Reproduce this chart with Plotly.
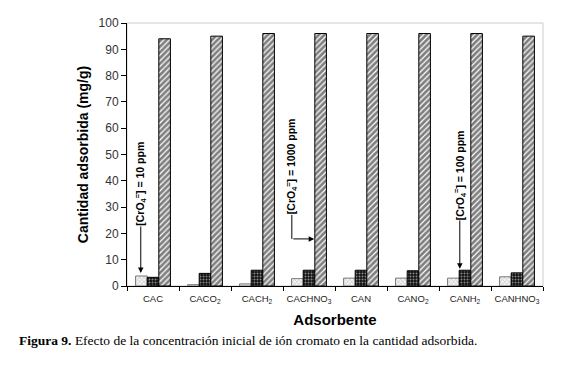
import plotly.graph_objects as go

categories = ["CAC", "CACO<sub>2</sub>", "CACH<sub>2</sub>", "CACHNO<sub>3</sub>",
              "CAN", "CANO<sub>2</sub>", "CANH<sub>2</sub>", "CANHNO<sub>3</sub>"]
ppm10 = [3.8, 0.5, 0.8, 2.8, 3.0, 3.0, 3.0, 3.5]
ppm100 = [3.3, 4.8, 6.0, 6.0, 6.0, 5.8, 6.0, 5.0]
ppm1000 = [94, 95, 96, 96, 96, 96, 96, 95]

FONT = "Liberation Sans"

fig = go.Figure()
fig.add_bar(x=categories, y=ppm10, name="10 ppm",
            marker=dict(color="white", line=dict(color="#777777", width=1),
                        pattern=dict(shape="x", fgcolor="#8a8a8a", bgcolor="#f4f4f4", size=3, solidity=0.35)))
fig.add_bar(x=categories, y=ppm100, name="100 ppm",
            marker=dict(color="black", line=dict(color="black", width=1),
                        pattern=dict(shape=".", fgcolor="white", bgcolor="#111111", size=3, solidity=0.35)))
fig.add_bar(x=categories, y=ppm1000, name="1000 ppm",
            marker=dict(color="white", line=dict(color="black", width=1),
                        pattern=dict(shape="/", fgcolor="black", bgcolor="white", size=4, solidity=0.7)))

label = "<b>[CrO<sub>4</sub><sup>=</sup>] = {} ppm</b>"
anns = []
# text labels
for x, y, t in [(-0.225, 39.0, "10"), (2.67, 45.5, "1000"), (5.9, 42.0, "100")]:
    anns.append(dict(x=x, y=y, xref="x", yref="y", text=label.format(t), showarrow=False,
                     textangle=-90, font=dict(family=FONT, size=10.5, color="black"),
                     xanchor="center", yanchor="middle"))
# arrows
for (x, y, ax, ay) in [(-0.235, 4.9, -0.235, 23.2), (5.9, 6.6, 5.9, 25.5), (3.1, 17.9, 2.67, 17.9)]:
    anns.append(dict(x=x, y=y, ax=ax, ay=ay, xref="x", yref="y", axref="x", ayref="y",
                     text="", showarrow=True, arrowhead=2, arrowsize=1.1, arrowwidth=1,
                     arrowcolor="black", standoff=0, startstandoff=0))
# caption
anns.append(dict(x=-0.264, y=-0.209, xref="paper", yref="paper", xanchor="left", yanchor="middle",
                 showarrow=False,
                 text="<b>Figura 9.</b> Efecto de la concentración inicial de ión cromato en la cantidad adsorbida.",
                 font=dict(family="Liberation Serif", size=13.5, color="black")))

fig.add_shape(type="line", xref="x", yref="y", x0=2.67, x1=2.67, y0=27.0, y1=17.9,
              line=dict(color="black", width=1))

fig.update_layout(
    width=572, height=358,
    margin=dict(l=119, r=37, t=15, b=80),
    paper_bgcolor="white", plot_bgcolor="white",
    barmode="group", bargap=0.33, bargroupgap=0,
    showlegend=False,
    font=dict(family=FONT, color="black"),
    annotations=anns,
    xaxis=dict(showline=True, linecolor="black", linewidth=1, mirror=False, automargin=False,
               ticks="outside", tickson="boundaries", ticklen=4, tickcolor="black", tickangle=0,
               ticklabelstandoff=4,
               tickfont=dict(family=FONT, size=9.5, color="#222222"),
               title=dict(text="<b>Adsorbente</b>", font=dict(family=FONT, size=15), standoff=10)),
    yaxis=dict(range=[0, 100], dtick=10, showline=True, linecolor="black", linewidth=1, automargin=False,
               ticks="outside", ticklen=5, tickcolor="black", showgrid=False, zeroline=False,
               tickfont=dict(family=FONT, size=12, color="#333333"),
               title=dict(text="<b>Cantidad adsorbida (mg/g)</b>", font=dict(family=FONT, size=14), standoff=6)),
)
# light frame on top/right of plot area
fig.add_shape(type="rect", xref="paper", yref="paper", x0=0, x1=1, y0=0, y1=1,
              line=dict(color="#cccccc", width=1), layer="below")

fig.write_html("out.html")
